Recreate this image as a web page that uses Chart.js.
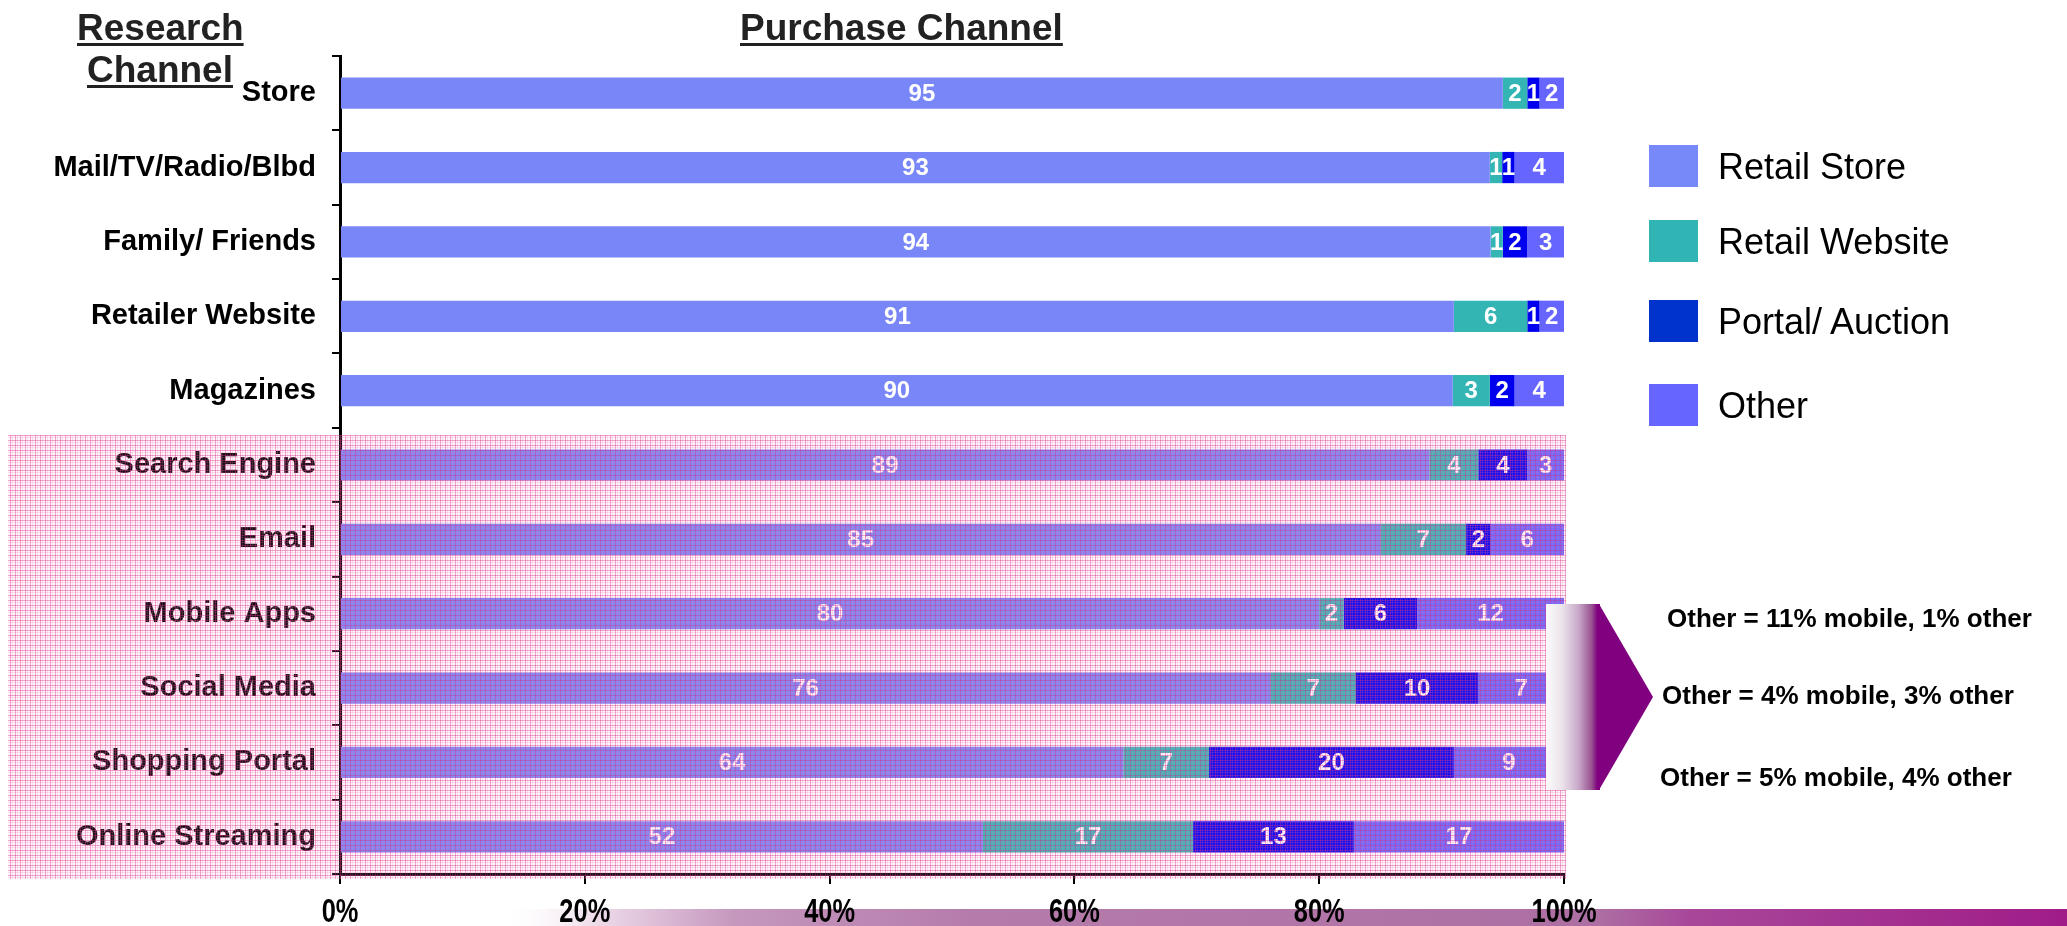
<!DOCTYPE html>
<html>
<head>
<meta charset="utf-8">
<script src="https://cdn.jsdelivr.net/npm/chart.js@4.4.1/dist/chart.umd.min.js"></script>
<style>
html,body{margin:0;padding:0;background:#fff;}
#wrap{position:relative;width:2067px;height:926px;overflow:hidden;font-family:"Liberation Sans",Arial,Helvetica,sans-serif;}
#c{position:absolute;left:0;top:0;}
.t{position:absolute;white-space:nowrap;line-height:1;color:#000;}
.title{font-weight:bold;font-size:37px;color:#222;text-decoration:underline;text-decoration-thickness:3px;text-underline-offset:3px;}
.leg{font-size:36px;}
.box{position:absolute;width:49px;height:42px;}
.ann{font-weight:bold;font-size:26px;}
</style>
</head>
<body>
<div id="wrap">
<canvas id="c" width="2067" height="926"></canvas>
<div class="t title" style="left:77px;top:9px;">Research</div>
<div class="t title" style="left:87px;top:51px;">Channel</div>
<div class="t title" style="left:740px;top:9px;">Purchase Channel</div>
<div id="legend"></div>
<div class="t ann" style="left:1667px;top:605px;">Other = 11% mobile, 1% other</div>
<div class="t ann" style="left:1662px;top:682px;">Other = 4% mobile, 3% other</div>
<div class="t ann" style="left:1660px;top:764px;">Other = 5% mobile, 4% other</div>
</div>
<script>
// ---- data ----
const categories = ['Store','Mail/TV/Radio/Blbd','Family/ Friends','Retailer Website','Magazines','Search Engine','Email','Mobile Apps','Social Media','Shopping Portal','Online Streaming'];
const seriesNames = ['Retail Store','Retail Website','Portal/ Auction','Other'];
const retailStore   = [95,93,94,91,90,89,85,80,76,64,52];
const retailWebsite = [2,1,1,6,3,4,7,2,7,7,17];
const portalAuction = [1,1,2,1,2,4,2,6,10,20,13];
const other         = [2,4,3,2,4,3,6,12,7,9,17];
const xTickValues = [0,20,40,60,80,100];
const xTickLabels = ['0%','20%','40%','60%','80%','100%'];

const rawSeries = [retailStore, retailWebsite, portalAuction, other];
const barColors = ['#7986F7','#33B5B4','#0000EE','#6666FF'];
const legendColors = ['#7788F8','#30B4B4','#0033CC','#6666FF'];
const totals = categories.map((c,i)=>rawSeries.reduce((s,a)=>s+a[i],0));
const shares = rawSeries.map(a=>a.map((v,i)=>v/totals[i]*100));

const FONT = '"Liberation Sans", Arial, Helvetica, sans-serif';

// legend (HTML)
const legTops = [145,220,300,384];
const legEl = document.getElementById('legend');
seriesNames.forEach((n,i)=>{
  const b=document.createElement('div'); b.className='box';
  b.style.left='1649px'; b.style.top=legTops[i]+'px'; b.style.background=legendColors[i];
  legEl.appendChild(b);
  const t=document.createElement('div'); t.className='t leg';
  t.style.left='1718px'; t.style.top=(legTops[i]+21+13-30.5)+'px'; t.textContent=n;
  legEl.appendChild(t);
});

// pink hatch pattern
function makePattern(ctx){
  const p=document.createElement('canvas'); p.width=5; p.height=5;
  const g=p.getContext('2d');
  g.fillStyle='rgba(245,165,205,0.10)'; g.fillRect(0,0,5,5);
  g.fillStyle='rgba(232,110,175,0.18)'; g.fillRect(2,0,1,5); g.fillRect(0,2,5,1);
  g.fillStyle='rgba(215,45,135,0.40)'; g.fillRect(0,0,1,5); g.fillRect(0,0,5,1);
  return ctx.createPattern(p,'repeat');
}

const valuePlugin = {
  id:'vals',
  afterDatasetsDraw(chart){
    const ctx=chart.ctx; ctx.save();
    ctx.font='bold 24px '+FONT; ctx.fillStyle='#fff';
    ctx.textAlign='center'; ctx.textBaseline='middle';
    chart.data.datasets.forEach((ds,di)=>{
      const meta=chart.getDatasetMeta(di);
      meta.data.forEach((bar,i)=>{
        const x=(bar.x+bar.base)/2;
        ctx.fillText(String(rawSeries[di][i]), x, bar.y+1);
      });
    });
    ctx.restore();
  }
};

const decoPlugin = {
  id:'deco',
  afterDraw(chart){
    const ctx=chart.ctx;
    // pink hatched region over digital channels
    ctx.save();
    ctx.fillStyle=makePattern(ctx);
    ctx.fillRect(8,435,1558,444);
    ctx.restore();
    // gradient box + arrow
    ctx.save();
    const g=ctx.createLinearGradient(1546,0,1600,0);
    g.addColorStop(0,'#fbfbfb'); g.addColorStop(0.3,'#ebe3eb');
    g.addColorStop(0.6,'#c9a9c9'); g.addColorStop(0.85,'#98508f'); g.addColorStop(0.95,'#800080'); g.addColorStop(1,'#800080');
    ctx.fillStyle=g; ctx.fillRect(1546,604,54,186);
    ctx.fillStyle='#800080';
    ctx.beginPath(); ctx.moveTo(1599,604); ctx.lineTo(1653,697); ctx.lineTo(1599,790); ctx.closePath(); ctx.fill();
    ctx.restore();
    // bottom decorative strip
    ctx.save();
    const s=ctx.createLinearGradient(500,0,2067,0);
    s.addColorStop(0,'rgba(255,255,255,0)'); s.addColorStop(0.06,'#eedcea');
    s.addColorStop(0.15,'#c597be'); s.addColorStop(0.3,'#b57cab'); s.addColorStop(0.7,'#ad6fa3');
    s.addColorStop(0.76,'#a8479a'); s.addColorStop(1,'#a01c88');
    ctx.fillStyle=s; ctx.fillRect(500,909,1567,17);
    ctx.restore();
    // x tick labels (condensed bold)
    const xs=chart.scales.x;
    ctx.save();
    ctx.font='bold 33px '+FONT; ctx.fillStyle='#000';
    ctx.textAlign='center'; ctx.textBaseline='alphabetic';
    xTickValues.forEach((v,i)=>{
      const px=xs.getPixelForValue(v);
      ctx.save(); ctx.translate(px,922); ctx.scale(0.77,1);
      ctx.fillText(xTickLabels[i],0,0); ctx.restore();
    });
    ctx.restore();
  }
};

new Chart(document.getElementById('c'),{
  type:'bar',
  data:{
    labels:categories,
    datasets:seriesNames.map((n,i)=>({
      label:n, data:shares[i], backgroundColor:barColors[i], borderWidth:0,
      barPercentage:0.42, categoryPercentage:1
    }))
  },
  options:{
    indexAxis:'y', responsive:false, animation:false, devicePixelRatio:1, events:[],
    layout:{padding:{left:0,top:56,right:503,bottom:0}},
    plugins:{legend:{display:false},tooltip:{enabled:false}},
    scales:{
      x:{stacked:true,min:0,max:100,
         ticks:{stepSize:20,display:false},
         grid:{drawOnChartArea:false,drawTicks:true,tickLength:10,color:'#000',lineWidth:2},
         border:{display:true,color:'#000',width:3},
         afterFit(s){s.height=52;}, z:1},
      y:{stacked:true,
         ticks:{color:'#000',font:{family:FONT,size:29,weight:'bold'},padding:16},
         grid:{offset:true,drawOnChartArea:false,drawTicks:true,tickLength:8,color:'#000',lineWidth:2},
         border:{display:true,color:'#000',width:3},
         afterFit(s){s.width=340;}, z:1}
    }
  },
  plugins:[valuePlugin,decoPlugin]
});
</script>
</body>
</html>
